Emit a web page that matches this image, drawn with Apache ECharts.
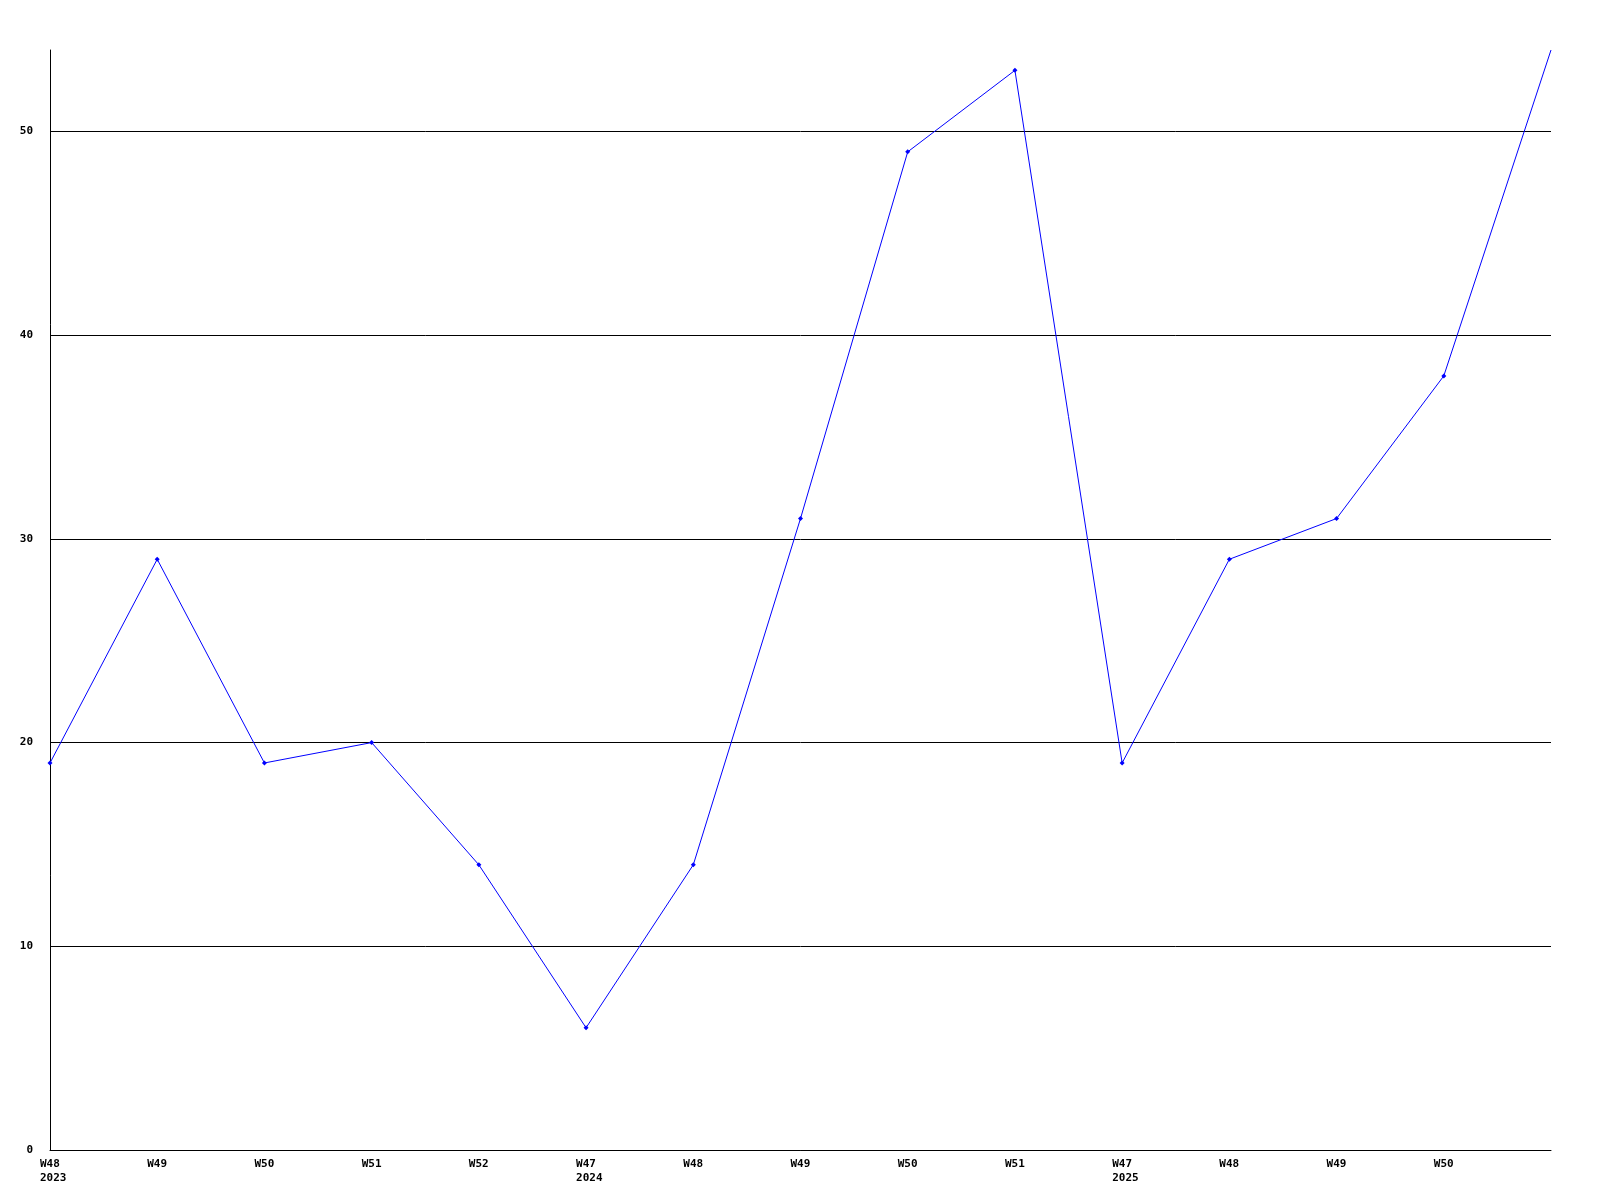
<!DOCTYPE html>
<html><head><meta charset="utf-8">
<script src="https://cdn.jsdelivr.net/npm/echarts@6/dist/echarts.min.js"></script>
<style>html,body{margin:0;padding:0;background:#fff}#c{width:1600px;height:1200px}</style>
</head><body><div id="c"></div>
<script>
const weeks = ['W48','W49','W50','W51','W52','W47','W48','W49','W50','W51','W47','W48','W49','W50',''];
const years = ['2023','','','','','2024','','','','','2025','','','',''];
const values = [19, 29, 19, 20, 14, 6, 14, 31, 49, 53, 19, 29, 31, 38, 54];
const yTicks = [0, 10, 20, 30, 40, 50];

const categories = weeks.map((w, i) => i);
const chart = echarts.init(document.getElementById('c'), null, {renderer: 'canvas'});
const font = 'DejaVu Sans Mono';
chart.setOption({
  animation: false,
  backgroundColor: '#fff',
  grid: {left: 50, right: 49, top: 50, bottom: 50, containLabel: false},
  xAxis: {
    type: 'category',
    data: categories,
    boundaryGap: false,
    axisLine: {show: true, lineStyle: {color: '#000', width: 1}},
    axisTick: {show: false},
    splitLine: {show: false},
    axisLabel: {
      interval: 0,
      margin: 7,
      align: 'center',
      verticalAlign: 'top',
      formatter: (v, i) => {
        const w = weeks[i];
        if (!w) return '';
        return years[i] ? '{a|' + w + '}\n{a|' + years[i] + '}' : '{a|' + w + '}';
      },
      rich: {a: {width: 20, align: 'left', fontFamily: font, fontWeight: 'bold', fontSize: 11, color: '#000', lineHeight: 14}}
    }
  },
  yAxis: {
    type: 'value',
    min: 0, max: 54, interval: 10,
    axisLine: {show: true, lineStyle: {color: '#000', width: 1}},
    axisTick: {show: false},
    splitLine: {show: true, showMaxLine: false, lineStyle: {color: '#000', width: 1}},
    axisLabel: {
      margin: 17,
      showMaxLabel: false,
      fontFamily: font, fontWeight: 'bold', fontSize: 11, color: '#000',
      formatter: v => yTicks.includes(v) ? String(v) : ''
    }
  },
  series: [{
    type: 'line',
    data: values,
    symbol: (val, params) => params.dataIndex === values.length - 1 ? 'none' : 'diamond',
    symbolSize: 5,
    clip: true,
    showAllSymbol: true,
    itemStyle: {color: '#0000ff'},
    lineStyle: {color: '#0000ff', width: 1}
  }]
});
</script></body></html>
